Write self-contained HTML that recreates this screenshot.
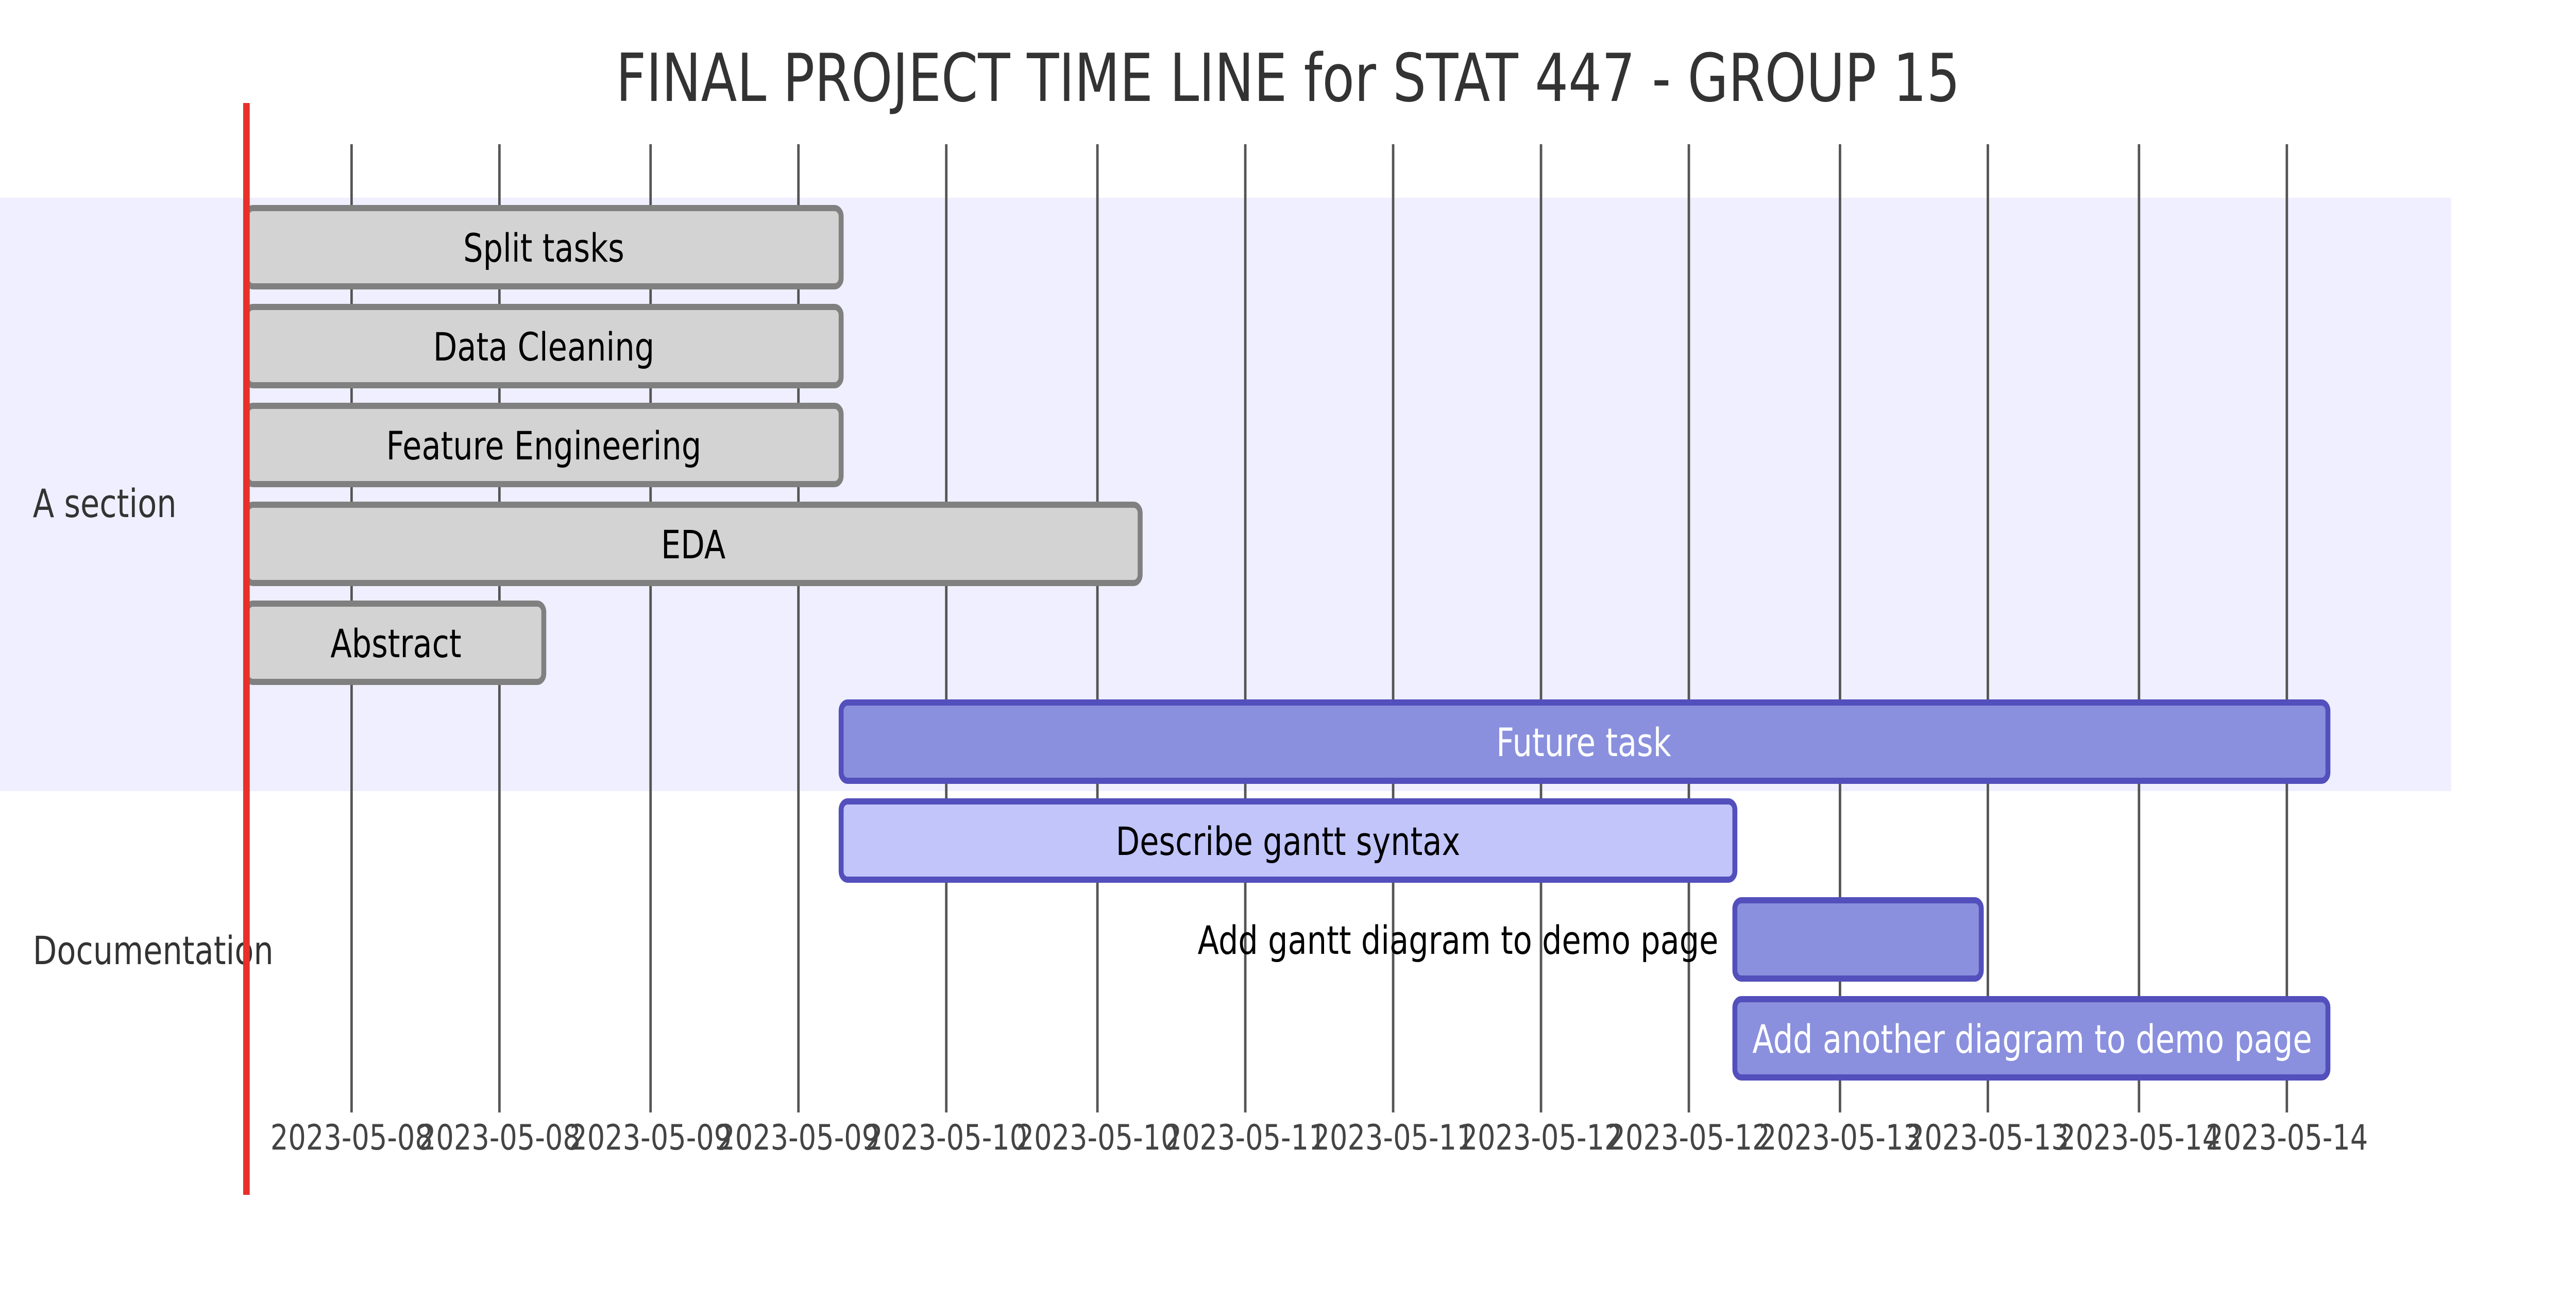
<!DOCTYPE html>
<html><head><meta charset="utf-8"><style>
html,body{margin:0;padding:0;background:#fff;width:100%;height:100%;overflow:hidden;}
svg{display:block;width:100vw;height:100vh;}
text{font-family:"DejaVu Sans","Liberation Sans",sans-serif;}
</style></head><body>
<svg viewBox="0 0 1568 632" preserveAspectRatio="none" xmlns="http://www.w3.org/2000/svg">
<rect width="1568" height="632" fill="#fff"/>
<rect x="0" y="96" width="1492" height="288" fill="#efefff"/>
<text x="784" y="49" font-size="32" text-anchor="middle" fill="#333">FINAL PROJECT TIME LINE for STAT 447 - GROUP 15</text>
<g stroke="#555" stroke-width="1.5">
<line x1="214" y1="70" x2="214" y2="540"/><line x1="304" y1="70" x2="304" y2="540"/>
<line x1="396" y1="70" x2="396" y2="540"/><line x1="486" y1="70" x2="486" y2="540"/>
<line x1="576" y1="70" x2="576" y2="540"/><line x1="668" y1="70" x2="668" y2="540"/>
<line x1="758" y1="70" x2="758" y2="540"/><line x1="848" y1="70" x2="848" y2="540"/>
<line x1="938" y1="70" x2="938" y2="540"/><line x1="1028" y1="70" x2="1028" y2="540"/>
<line x1="1120" y1="70" x2="1120" y2="540"/><line x1="1210" y1="70" x2="1210" y2="540"/>
<line x1="1302" y1="70" x2="1302" y2="540"/><line x1="1392" y1="70" x2="1392" y2="540"/>
</g>
<g font-size="17" fill="#444" text-anchor="middle">
<text x="214" y="558">2023-05-08</text><text x="304" y="558">2023-05-08</text>
<text x="396" y="558">2023-05-09</text><text x="486" y="558">2023-05-09</text>
<text x="576" y="558">2023-05-10</text><text x="668" y="558">2023-05-10</text>
<text x="758" y="558">2023-05-11</text><text x="848" y="558">2023-05-11</text>
<text x="938" y="558">2023-05-12</text><text x="1028" y="558">2023-05-12</text>
<text x="1120" y="558">2023-05-13</text><text x="1210" y="558">2023-05-13</text>
<text x="1302" y="558">2023-05-14</text><text x="1392" y="558">2023-05-14</text>
</g>
<g fill="#d3d3d3" stroke="#808080" stroke-width="3">
<rect x="150" y="101" width="362" height="38" rx="4"/>
<rect x="150" y="149" width="362" height="38" rx="4"/>
<rect x="150" y="197" width="362" height="38" rx="4"/>
<rect x="150" y="245" width="544" height="38" rx="4"/>
<rect x="150" y="293" width="181" height="38" rx="4"/>
</g>
<g stroke="#534fbc" stroke-width="3">
<rect x="512" y="341" width="905" height="38" rx="4" fill="#8a90dd"/>
<rect x="512" y="389" width="544" height="38" rx="4" fill="#c1c5fa"/>
<rect x="1056" y="437" width="150" height="38" rx="4" fill="#8a90dd"/>
<rect x="1056" y="485" width="361" height="38" rx="4" fill="#8a90dd"/>
</g>
<g font-size="19" fill="#000" text-anchor="middle">
<text x="331" y="127">Split tasks</text>
<text x="331" y="175">Data Cleaning</text>
<text x="331" y="223">Feature Engineering</text>
<text x="422" y="271">EDA</text>
<text x="241" y="319">Abstract</text>
<text x="964" y="367" fill="#fff">Future task</text>
<text x="784" y="415">Describe gantt syntax</text>
<text x="1046" y="463" text-anchor="end">Add gantt diagram to demo page</text>
<text x="1237" y="511" fill="#fff">Add another diagram to demo page</text>
</g>
<g font-size="19" fill="#333">
<text x="20" y="251">A section</text>
<text x="20" y="468">Documentation</text>
</g>
<rect x="148" y="50" width="4" height="530" fill="#e8302a"/>
</svg>
</body></html>
